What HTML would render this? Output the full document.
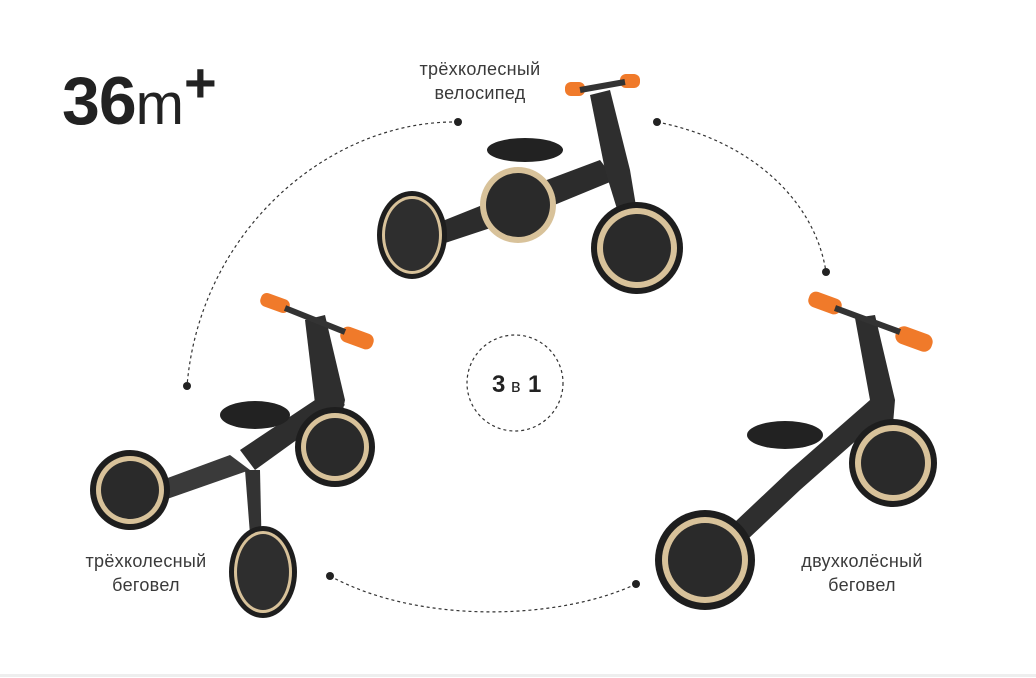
<!DOCTYPE html>
<html><head><meta charset="utf-8"><style>
html,body{margin:0;padding:0;background:#fff;}
body{width:1036px;height:678px;position:relative;overflow:hidden;font-family:"Liberation Sans",sans-serif;}
.lbl{position:absolute;font-size:18px;color:#3a3a3a;text-align:center;line-height:24px;letter-spacing:0.3px}
</style></head><body>
<svg width="1036" height="678" style="position:absolute;left:0;top:0">
 <line x1="0" y1="675.5" x2="1036" y2="675.5" stroke="#eee" stroke-width="3"/>
 <!-- dashed arcs -->
 <g fill="none" stroke="#333" stroke-width="1.2" stroke-dasharray="3,3">
  <path d="M458,122 C330,120 200,230 187,386"/>
  <path d="M657,122 C750,140 815,200 826,272"/>
  <path d="M330,576 C420,625 560,620 636,584"/>
  <circle cx="515" cy="383" r="48"/>
 </g>
 <g fill="#222">
  <circle cx="458" cy="122" r="4"/><circle cx="187" cy="386" r="4"/>
  <circle cx="657" cy="122" r="4"/><circle cx="826" cy="272" r="4"/>
  <circle cx="330" cy="576" r="4"/><circle cx="636" cy="584" r="4"/>
 </g>
 <text x="492" y="392" font-family="Liberation Sans" font-size="24" font-weight="bold" fill="#222">3</text>
 <text x="511" y="392" font-family="Liberation Sans" font-size="18" fill="#222">в</text>
 <text x="528" y="392" font-family="Liberation Sans" font-size="24" font-weight="bold" fill="#222">1</text>

 <!-- Bike 1 top -->
 <g>
  <path d="M420,230 L520,190 L600,160 L615,180 L530,215 L430,248Z" fill="#2c2c2c"/>
  <path d="M590,95 L610,90 L630,170 L640,230 L625,235 L605,170Z" fill="#2e2e2e"/>
  <ellipse cx="525" cy="150" rx="38" ry="12" fill="#222"/>
  <rect x="565" y="82" width="20" height="14" rx="6" fill="#f07a2a"/>
  <rect x="620" y="74" width="20" height="14" rx="6" fill="#f07a2a"/>
  <line x1="580" y1="90" x2="625" y2="82" stroke="#333" stroke-width="6"/>
  <circle cx="518" cy="205" r="38" fill="#d8c29a"/><circle cx="518" cy="205" r="32" fill="#2a2a2a"/>
  <circle cx="637" cy="248" r="46" fill="#1e1e1e"/><circle cx="637" cy="248" r="40" fill="#d8c29a"/><circle cx="637" cy="248" r="34" fill="#2a2a2a"/>
  <ellipse cx="412" cy="235" rx="35" ry="44" fill="#1e1e1e"/><ellipse cx="412" cy="235" rx="30" ry="39" fill="#d8c29a"/><ellipse cx="412" cy="235" rx="27" ry="36" fill="#2e2e2e"/>
 </g>
 <!-- Bike 2 left -->
 <g>
  <path d="M135,490 L230,455 L250,470 L150,505Z" fill="#3a3a3a"/>
  <path d="M240,450 L330,390 L345,405 L255,470Z" fill="#2e2e2e"/>
  <path d="M305,320 L325,315 L345,400 L335,450 L320,445Z" fill="#2e2e2e"/>
  <ellipse cx="255" cy="415" rx="35" ry="14" fill="#222"/>
  <path d="M245,470 L260,470 L262,560 L252,560Z" fill="#333"/>
  <rect x="260" y="296" width="30" height="14" rx="6" fill="#f07a2a" transform="rotate(20 275 303)"/>
  <rect x="340" y="330" width="34" height="16" rx="7" fill="#f07a2a" transform="rotate(20 357 338)"/>
  <line x1="285" y1="308" x2="345" y2="332" stroke="#333" stroke-width="6"/>
  <circle cx="335" cy="447" r="40" fill="#1e1e1e"/><circle cx="335" cy="447" r="34" fill="#d8c29a"/><circle cx="335" cy="447" r="29" fill="#2a2a2a"/>
  <circle cx="130" cy="490" r="40" fill="#1e1e1e"/><circle cx="130" cy="490" r="34" fill="#d8c29a"/><circle cx="130" cy="490" r="29" fill="#2a2a2a"/>
  <ellipse cx="263" cy="572" rx="34" ry="46" fill="#1e1e1e"/><ellipse cx="263" cy="572" rx="29" ry="41" fill="#d8c29a"/><ellipse cx="263" cy="572" rx="26" ry="38" fill="#2e2e2e"/>
 </g>
 <!-- Bike 3 right -->
 <g>
  <path d="M700,555 L790,470 L870,400 L885,415 L800,490 L715,570Z" fill="#2e2e2e"/>
  <path d="M855,318 L875,315 L895,400 L890,460 L875,460 L870,400Z" fill="#2e2e2e"/>
  <ellipse cx="785" cy="435" rx="38" ry="14" fill="#222"/>
  <rect x="808" y="295" width="34" height="16" rx="7" fill="#f07a2a" transform="rotate(20 825 303)"/>
  <rect x="895" y="330" width="38" height="18" rx="8" fill="#f07a2a" transform="rotate(20 914 339)"/>
  <line x1="835" y1="308" x2="900" y2="332" stroke="#333" stroke-width="6"/>
  <circle cx="893" cy="463" r="44" fill="#1e1e1e"/><circle cx="893" cy="463" r="38" fill="#d8c29a"/><circle cx="893" cy="463" r="32" fill="#2a2a2a"/>
  <circle cx="705" cy="560" r="50" fill="#1e1e1e"/><circle cx="705" cy="560" r="43" fill="#d8c29a"/><circle cx="705" cy="560" r="37" fill="#2a2a2a"/>
 </g>
</svg>
<div style="position:absolute;left:62px;top:62px;color:#222;white-space:nowrap">
 <span style="font-size:68px;font-weight:bold;letter-spacing:-1px">36</span><span style="font-size:58px;font-weight:normal">m</span><span style="font-size:56px;font-weight:bold;position:relative;top:-22px">+</span>
</div>
<div class="lbl" style="left:380px;top:57px;width:200px">трёхколесный<br>велосипед</div>
<div class="lbl" style="left:46px;top:549px;width:200px">трёхколесный<br>беговел</div>
<div class="lbl" style="left:762px;top:549px;width:200px">двухколёсный<br>беговел</div>
</body></html>
